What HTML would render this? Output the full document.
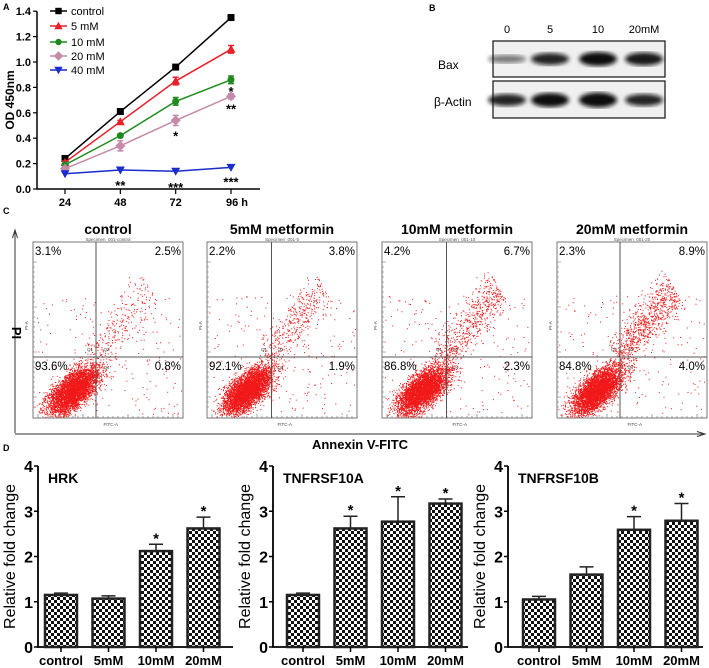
<!DOCTYPE html>
<html><head><meta charset="utf-8">
<style>
html,body{margin:0;padding:0;background:#fff;}
svg{display:block;font-family:"Liberation Sans",Arial,sans-serif;}
</style></head>
<body>
<svg id="fig" width="709" height="668" viewBox="0 0 709 668" xmlns="http://www.w3.org/2000/svg">
<defs>
<pattern id="chk" width="6" height="6" patternUnits="userSpaceOnUse">
<rect width="6" height="6" fill="#fff"/><rect width="3" height="3" fill="#111"/><rect x="3" y="3" width="3" height="3" fill="#111"/>
</pattern>
<filter id="blur"><feGaussianBlur stdDeviation="2.2"/></filter>
</defs>
<g id="pa"></g>
<g id="pb"></g>
<g id="pc"></g>
<g id="pd"></g>
</svg>
<script>
// Panel A data
const aTimes = [24, 48, 72, 96];
const aTickLabels = ["24", "48", "72", "96 h"];
const aYTicks = [0.0, 0.2, 0.4, 0.6, 0.8, 1.0, 1.2, 1.4];
const aSeriesNames = ["control", "5 mM", "10 mM", "20 mM", "40 mM"];
const aControl = [0.24, 0.61, 0.96, 1.35];
const a5mM = [0.21, 0.53, 0.85, 1.10];
const a10mM = [0.19, 0.42, 0.69, 0.86];
const a20mM = [0.16, 0.34, 0.54, 0.73];
const a40mM = [0.12, 0.15, 0.14, 0.17];
const aErr5 = [0.01, 0.01, 0.03, 0.03];
const aErr10 = [0.01, 0.01, 0.03, 0.03];
const aErr20 = [0.01, 0.04, 0.04, 0.02];
// Panel C data
const cTitles = ["control", "5mM metformin", "10mM metformin", "20mM metformin"];
const cSpec = ["Specimen_001-control", "Specimen_001-5", "Specimen_001-10", "Specimen_001-20"];
const cQ1 = ["3.1%", "2.2%", "4.2%", "2.3%"];
const cQ2 = ["2.5%", "3.8%", "6.7%", "8.9%"];
const cQ3 = ["93.6%", "92.1%", "86.8%", "84.8%"];
const cQ4 = ["0.8%", "1.9%", "2.3%", "4.0%"];
// Panel D data
const dGenes = ["HRK", "TNFRSF10A", "TNFRSF10B"];
const dCats = ["control", "5mM", "10mM", "20mM"];
const dYTicks = [0, 1, 2, 3, 4];
const dHRK = [1.15, 1.07, 2.12, 2.62];
const dHRKErr = [0.04, 0.06, 0.15, 0.25];
const d10A = [1.15, 2.62, 2.77, 3.17];
const d10AErr = [0.04, 0.27, 0.55, 0.10];
const d10B = [1.05, 1.60, 2.59, 2.79];
const d10BErr = [0.07, 0.17, 0.29, 0.38];
const dStars = [[0,0,1,1],[0,1,1,1],[0,0,1,1]];

const NS = "http://www.w3.org/2000/svg";
function el(parent, tag, attrs, text){
  const e = document.createElementNS(NS, tag);
  for (const k in attrs) e.setAttribute(k, attrs[k]);
  if (text !== undefined) e.textContent = text;
  parent.appendChild(e);
  return e;
}

// ---------- Panel A ----------
(function(){
  const g = document.getElementById('pa');
  const X = t => 65 + (t - 24) * (231 - 65) / 72;
  const Y = v => 189 - v * 127;
  let t = el(g,'text',{x:3,y:10,'font-size':9,'font-weight':'bold'},'A');
   
  let ax = el(g,'path',{d:`M37 ${Y(1.4)} V189 H260`,stroke:'#000','stroke-width':1.5,fill:'none'});
   
  aYTicks.forEach(v=>{
    el(g,'line',{x1:33,x2:37,y1:Y(v),y2:Y(v),stroke:'#000','stroke-width':1.2});
    const tl = el(g,'text',{x:31,y:Y(v)+4,'font-size':11,'font-weight':'bold','text-anchor':'end'},v.toFixed(1));
     
  });
  aTimes.forEach((tm,i)=>{
    el(g,'line',{x1:X(tm),x2:X(tm),y1:189,y2:194,stroke:'#000','stroke-width':1.2});
    const tl = el(g,'text',{x:X(tm)+(i==3?6:0),y:206,'font-size':11,'font-weight':'bold','text-anchor':'middle'},aTickLabels[i]);
     
  });
  const yt = el(g,'text',{transform:'translate(14,100) rotate(-90)','font-size':12,'font-weight':'bold','text-anchor':'middle'},'OD 450nm');
   
  const series = [aControl,a5mM,a10mM,a20mM,a40mM];
  const errs = [null,aErr5,aErr10,aErr20,null];
  const colors = ['#000','#e8202a','#1e8a1e','#c48aa8','#1a2ccc'];
  const marker = (gg,x,y,i,s)=>{
    if(i==0) return el(gg,'rect',{x:x-s,y:y-s,width:2*s,height:2*s,fill:colors[i]});
    if(i==1) return el(gg,'path',{d:`M${x} ${y-s-1}L${x+s+1} ${y+s}L${x-s-1} ${y+s}Z`,fill:colors[i]});
    if(i==2) return el(gg,'circle',{cx:x,cy:y,r:s,fill:colors[i]});
    if(i==3) return el(gg,'path',{d:`M${x} ${y-s-1.5}L${x+s+1.5} ${y}L${x} ${y+s+1.5}L${x-s-1.5} ${y}Z`,fill:colors[i]});
    return el(gg,'path',{d:`M${x-s-1} ${y-s}L${x+s+1} ${y-s}L${x} ${y+s+1}Z`,fill:colors[i]});
  };
  series.forEach((s,i)=>{
    const sg = el(g,'g',{});
     
    el(sg,'polyline',{points:s.map((v,j)=>X(aTimes[j])+','+Y(v)).join(' '),fill:'none',stroke:colors[i],'stroke-width':1.5});
    s.forEach((v,j)=>{
      if(errs[i]){const e=errs[i][j];const x=X(aTimes[j]);
        el(sg,'path',{d:`M${x} ${Y(v+e)}V${Y(v-e)}M${x-3} ${Y(v+e)}H${x+3}M${x-3} ${Y(v-e)}H${x+3}`,stroke:colors[i],'stroke-width':1.5,fill:'none'});}
      const m = marker(sg,X(aTimes[j]),Y(v),i,3.5);
       
    });
  });
  const stars = [[X(48),Y(a40mM[1])+20,'**'],[X(72),Y(a40mM[2])+21,'***'],[X(96),Y(a40mM[3])+19,'***'],
    [X(72),Y(a20mM[2])+20,'*'],[X(96),Y(a10mM[3])+16,'*'],[X(96),Y(a20mM[3])+17,'**']];
  stars.forEach(s=>{const st=el(g,'text',{x:s[0],y:s[1],'font-size':13,'font-weight':'bold','text-anchor':'middle'},s[2]);
     });
  const ly=[11,26,42,56,70];
  aSeriesNames.forEach((n,i)=>{
    const lg = el(g,'g',{});
     
    el(lg,'line',{x1:50,x2:67,y1:ly[i],y2:ly[i],stroke:colors[i],'stroke-width':1.5});
    marker(lg,58.5,ly[i],i,3.2);
    el(lg,'text',{x:71,y:ly[i]+4,'font-size':11},n);
  });
})();

// ---------- Panel B ----------
(function(){
  const g = document.getElementById('pb');
  let t = el(g,'text',{x:429,y:11,'font-size':9,'font-weight':'bold'},'B');
   
  const lanes=['0','5','10','20mM'], lx=[507,550,598,644];
  lanes.forEach((l,i)=>{const tl=el(g,'text',{x:lx[i],y:33,'font-size':11,'text-anchor':'middle'},l);
     });
  const b1=el(g,'text',{x:438,y:69,'font-size':12},'Bax');  
  const b2=el(g,'text',{x:434,y:106,'font-size':12},'β-Actin');  
  const boxes=[[41,77],[81,118]];
  const bands=[[[0.55,4],[0.9,6],[1,7],[0.95,6.5]],[[0.9,6],[1,7],[1,7.5],[0.9,6]]];
  boxes.forEach((bx,k)=>{
    const bg=el(g,'g',{});
     
    el(bg,'rect',{x:493,y:bx[0],width:172,height:bx[1]-bx[0],fill:'#f0f0f0',stroke:'#222','stroke-width':1.3});
    const cy=k?100:59;
    bands[k].forEach((b,i)=>{
      el(bg,'ellipse',{cx:lx[i],cy:cy,rx:19,ry:b[1],fill:'#111','fill-opacity':b[0],filter:'url(#blur)'});
    });
  });
})();

// ---------- Panel C ----------
(function(){
  const g = document.getElementById('pc');
  let t = el(g,'text',{x:3,y:214,'font-size':9,'font-weight':'bold'},'C');
   
  el(g,'path',{d:'M15 433V232M12.5 238L15 230L17.5 238',stroke:'#333','stroke-width':1,fill:'none'});
  el(g,'path',{d:'M15 434H703M697 431.5L705 434L697 436.5',stroke:'#333','stroke-width':1,fill:'none'});
  const pi=el(g,'text',{transform:'translate(12,333) rotate(90)','font-size':13,'font-weight':'bold','text-anchor':'middle'},'PI');
   
  const an=el(g,'text',{x:360,y:449,'font-size':13,'font-weight':'bold','text-anchor':'middle'},'Annexin V-FITC');
   
  const bx=[33,207,382,557];
  const vf=[0.42,0.43,0.43,0.42];
  let seed=12345; const rnd=()=>{seed=(seed*16807)%2147483647;return seed/2147483647;};
  const gauss=()=>{let u=0;for(let i=0;i<4;i++)u+=rnd();return (u-2)/0.577;};
  const upper=[250,400,600,800];
  bx.forEach((x0,i)=>{
    const pg=el(g,'g',{});
     
    const y0=242,w=150,h=176;
    const tt=el(pg,'text',{x:x0+w/2,y:234,'font-size':14,'font-weight':'bold','text-anchor':'middle'},cTitles[i]);
     
    el(pg,'text',{x:x0+w/2,y:241,'font-size':4.5,'text-anchor':'middle',fill:'#555'},cSpec[i]);
    el(pg,'rect',{x:x0,y:y0,width:w,height:h,fill:'#fff',stroke:'#777','stroke-width':1});
    let tk='';
    for(let k=0;k<30;k++){tk+=`M${x0} ${y0+20+k*5}h${k%9==0?4:2}M${x0+5+k*5} ${y0+h}v-${k%9==0?4:2}`;}
    el(pg,'path',{d:tk,stroke:'#666','stroke-width':0.6,fill:'none'});
    let d='';
    const cx=x0+w*0.27, cy=y0+h*0.84;
    for(let k=0;k<4200;k++){const a=gauss()*15,b=gauss()*7;
      const px=cx+a*0.75+b*0.7, py=cy-a*0.7+b*0.75;
      if(px>x0+1&&px<x0+w-1&&py>y0+1&&py<y0+h-1) d+=`M${px.toFixed(1)} ${py.toFixed(1)}h1v1h-1z`;}
    for(let k=0;k<upper[i];k++){const a=rnd(),b=gauss()*8;
      const px=x0+w*0.4+a*w*0.38+b*0.6, py=y0+h*0.66-a*h*0.4+b;
      if(px>x0+1&&px<x0+w-1&&py>y0+1&&py<y0+h-1) d+=`M${px.toFixed(1)} ${py.toFixed(1)}h1v1h-1z`;}
    for(let k=0;k<200;k++){const px=x0+2+rnd()*(w-4),py=y0+h*0.3+rnd()*h*0.68;d+=`M${px.toFixed(1)} ${py.toFixed(1)}h1v1h-1z`;}
    const dots=el(pg,'path',{d:d,fill:'#f01818'});
     
    const qx=x0+w*vf[i], qy=357;
    el(pg,'path',{d:`M${qx} ${y0}V${y0+h}M${x0} ${qy}H${x0+w}`,stroke:'#555','stroke-width':1,fill:'none'});
    const lab=[[x0+2,y0+13,'start',cQ1[i]],[x0+w-2,y0+13,'end',cQ2[i]],[x0+2,qy+13,'start',cQ3[i]],[x0+w-2,qy+13,'end',cQ4[i]]];
    lab.forEach(l=>{const q=el(pg,'text',{x:l[0],y:l[1],'font-size':11.5,'text-anchor':l[2]},l[3]);
       });
    el(pg,'text',{x:x0+w*0.36,y:qy-6,'font-size':4.5,fill:'#444'},'Q1');
    el(pg,'text',{x:x0+w*0.47,y:qy-6,'font-size':4.5,fill:'#444'},'Q2');
    el(pg,'text',{x:x0+w*0.47,y:qy+12,'font-size':4.5,fill:'#444'},'Q4');
    el(pg,'text',{x:x0+w*0.47,y:y0+h+8,'font-size':4.5,fill:'#444'},'FITC-A');
    el(pg,'text',{transform:`translate(${x0-5},${y0+h*0.5}) rotate(-90)`,'font-size':4.5,fill:'#444'},'PI-A');
  });
})();

// ---------- Panel D ----------
(function(){
  const g = document.getElementById('pd');
  let t = el(g,'text',{x:3,y:451,'font-size':9,'font-weight':'bold'},'D');
   
  const vals=[dHRK,d10A,d10B], errs=[dHRKErr,d10AErr,d10BErr];
  const axX=[38,273,508], firstBar=[45,287,523];
  const Y=v=>647-v*(647-466)/4;
  vals.forEach((vs,p)=>{
    const cg=el(g,'g',{});
     
    const a=axX[p];
    el(cg,'path',{d:`M${a} ${Y(4)}V${Y(0)}H${a+195}`,stroke:'#000','stroke-width':1.8,fill:'none'});
    dYTicks.forEach(v=>{el(cg,'line',{x1:a-4,x2:a,y1:Y(v),y2:Y(v),stroke:'#000','stroke-width':1.5});
      const tl=el(cg,'text',{x:a-5,y:Y(v)+6,'font-size':16,'font-weight':'bold','text-anchor':'end'},v);
       });
    const yt=el(cg,'text',{transform:`translate(${a-23},${Y(2)}) rotate(-90)`,'font-size':16,'text-anchor':'middle'},'Relative fold change');
     
    const gt=el(cg,'text',{x:a+10,y:483,'font-size':14,'font-weight':'bold'},dGenes[p]);
     
    vs.forEach((v,i)=>{
      const bx=firstBar[p]+i*47.5, w=32, cx=bx+w/2, e=errs[p][i];
      el(cg,'path',{d:`M${cx} ${Y(v)}V${Y(v+e)}M${cx-7} ${Y(v+e)}H${cx+7}`,stroke:'#222','stroke-width':1.5,fill:'none'});
      const b=el(cg,'rect',{x:bx,y:Y(v),width:w,height:Y(0)-Y(v),fill:'url(#chk)',stroke:'#222','stroke-width':2.5});
       
      el(cg,'line',{x1:cx,x2:cx,y1:Y(0),y2:Y(0)+5,stroke:'#000','stroke-width':1.5});
      const cl=el(cg,'text',{x:cx,y:665,'font-size':13,'font-weight':'bold','text-anchor':'middle'},dCats[i]);
       
      if(dStars[p][i]){const s=el(cg,'text',{x:cx,y:Y(v+e)-1,'font-size':15,'font-weight':'bold','text-anchor':'middle'},'*');
         }
    });
  });
})();
</script>
</body></html>
